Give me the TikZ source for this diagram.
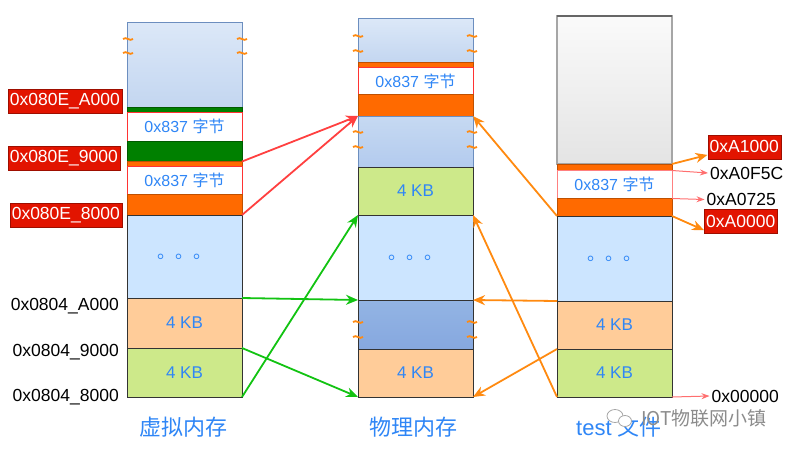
\documentclass[tikz,border=0pt]{standalone}
\usepackage{fontspec}
\setmainfont{Liberation Sans}
\newfontfamily\cjk{Noto Sans CJK SC}
\usetikzlibrary{arrows.meta}

\definecolor{txtblue}{HTML}{2F86F6}
\definecolor{ltblue}{HTML}{CCE5FF}
\definecolor{peach}{HTML}{FFCC99}
\definecolor{ltgreen}{HTML}{CDE98A}
\definecolor{dkgreen}{HTML}{008000}
\definecolor{orng}{HTML}{FF6A00}
\definecolor{lblred}{HTML}{E21400}
\definecolor{arrred}{HTML}{FF4040}
\definecolor{arrgreen}{HTML}{12C312}
\definecolor{arrorange}{HTML}{FF8A10}
\definecolor{pinkline}{HTML}{FF6F6F}
\definecolor{edgeblue}{HTML}{6C8EBF}
\definecolor{topA}{HTML}{DCE8F8}
\definecolor{topB}{HTML}{C3D6F0}
\definecolor{midA}{HTML}{C6D9F2}
\definecolor{midB}{HTML}{B3CBEE}
\definecolor{dkA}{HTML}{93B4E4}
\definecolor{dkB}{HTML}{86A8DF}
\definecolor{greyA}{HTML}{FAFAFA}
\definecolor{greyB}{HTML}{E4E4E4}

\tikzset{
  blk/.style={draw=black!80, line width=0.9pt, minimum width=115pt, inner sep=0pt,
              outer sep=0pt, anchor=north, text=txtblue, font=\fontsize{17}{20}\selectfont},
  whitebox/.style={blk, fill=white, draw=red!80, font=\fontsize{16}{19}\selectfont},
  orangebar/.style={blk, fill=orng, draw=orng!75!black},
  greenbar/.style={blk, fill=dkgreen, draw=dkgreen!70!black},
  dotsbox/.style={blk, fill=ltblue, font=\cjk\fontsize{18}{20}\selectfont},
  kbpeach/.style={blk, fill=peach},
  kbgreen/.style={blk, fill=ltgreen},
  topblue/.style={blk, draw=edgeblue, top color=topA, bottom color=topB},
  midblue/.style={blk, draw=edgeblue, top color=midA, bottom color=midB},
  dkblue/.style={blk, top color=dkA, bottom color=dkB},
  filetop/.style={blk, draw=black!35, line width=1.3pt, top color=greyA, bottom color=greyB},
  redlabel/.style={fill=lblred, draw=lblred!70!black, text=white, inner xsep=2pt,
                   minimum height=24pt, font=\fontsize{17.5}{20}\selectfont},
  addr/.style={inner sep=2pt, font=\fontsize{17.5}{20}\selectfont},
  coltitle/.style={text=txtblue, font=\fontsize{22}{26}\selectfont},
  maparrow/.style={line width=1.8pt, -{Stealth[length=12pt,width=10pt]}},
  ptr/.style={pinkline, line width=1pt, -{Stealth[length=8pt,width=6pt]}},
  tilde/.style={arrorange, line width=1.8pt}
}

\begin{document}
\begin{tikzpicture}[x=1pt, y=-1pt]
\useasboundingbox (0,0) rectangle (794,453);

% virtual memory
\node[topblue, minimum height=85pt] (vA) at (184.5,22) {};
\node[greenbar, minimum height=5pt] (vB) at (184.5,107) {};
\node[whitebox, minimum height=29pt] (vC) at (184.5,112) {0x837 {\cjk 字节}};
\node[greenbar, minimum height=20.5pt] (vD) at (184.5,141) {};
\node[orangebar, minimum height=5pt] (vE) at (184.5,161.5) {};
\node[whitebox, minimum height=28pt] (vF) at (184.5,166.5) {0x837 {\cjk 字节}};
\node[orangebar, minimum height=20.5pt] (vG) at (184.5,194.5) {};
\node[dotsbox, minimum height=83pt] (vH) at (184.5,215) {。。。};
\node[kbpeach, minimum height=50pt] (vI) at (184.5,298) {4 KB};
\node[kbgreen, minimum height=49pt] (vJ) at (184.5,348) {4 KB};
\node[coltitle] (vT) at (183,427) {\cjk 虚拟内存};

% physical memory
\node[topblue, minimum height=44.5pt] (pA) at (415.5,18) {};
\node[orangebar, minimum height=5pt] (pB) at (415.5,62.5) {};
\node[whitebox, minimum height=27pt] (pC) at (415.5,67.5) {0x837 {\cjk 字节}};
\node[orangebar, minimum height=21.5pt] (pD) at (415.5,94.5) {};
\node[midblue, minimum height=51pt] (pE) at (415.5,116) {};
\node[kbgreen, minimum height=48pt] (pF) at (415.5,167) {4 KB};
\node[dotsbox, minimum height=85pt] (pG) at (415.5,215) {。。。};
\node[dkblue, minimum height=49pt] (pH) at (415.5,300) {};
\node[kbpeach, minimum height=48pt] (pI) at (415.5,349) {4 KB};
\node[coltitle] (pT) at (413,427) {\cjk 物理内存};

% test file
\node[filetop, minimum height=148pt] (fA) at (614.5,16) {};
\draw[black!60, line width=1.3pt] (fA.north west) -- (fA.north east);
\node[orangebar, minimum height=6.5pt] (fB) at (614.5,164) {};
\node[whitebox, draw=red!50, minimum height=28pt] (fC) at (614.5,170.5) {0x837 {\cjk 字节}};
\node[orangebar, minimum height=17.5pt] (fD) at (614.5,198.5) {};
\node[dotsbox, minimum height=85pt] (fE) at (614.5,216) {。。。};
\node[kbpeach, minimum height=48pt] (fF) at (614.5,301) {4 KB};
\node[kbgreen, minimum height=48pt] (fG) at (614.5,349) {4 KB};
\node[coltitle] (fT) at (619,427) {test {\cjk 文件}};

% breaks
\foreach \x/\y in {128/39, 128/53, 242/39, 242/53, 358/36, 358/51, 472/36, 472/51,
                   358/132, 358/147, 472/132, 472/147, 358/322, 358/337, 472/322, 472/337}
  \draw[tilde] (\x-5,\y) .. controls (\x-2,\y-3) and (\x+2,\y+3) .. (\x+5,\y);

% addresses, virtual side
\node[redlabel, anchor=east] (vaA) at (122,101) {0x080E\_A000};
\node[redlabel, anchor=east] (va9) at (120,158) {0x080E\_9000};
\node[redlabel, anchor=east] (va8) at (122,215) {0x080E\_8000};
\node[addr, anchor=east] (vbA) at (121,306) {0x0804\_A000};
\node[addr, anchor=east] (vb9) at (121,352) {0x0804\_9000};
\node[addr, anchor=east] (vb8) at (121,397) {0x0804\_8000};

% addresses, file side
\node[redlabel, anchor=west] (fa1) at (707.5,146.7) {0xA1000};
\node[addr, anchor=west] (faF) at (708,173) {0xA0F5C};
\node[addr, anchor=west] (fa7) at (704.5,199.5) {0xA0725};
\node[redlabel, anchor=west] (fa0) at (704,221) {0xA0000};
\node[addr, anchor=west] (fz) at (709.5,396) {0x00000};

% mappings
\draw[maparrow, arrred] (vE.north east) -- (pD.south west);
\draw[maparrow, arrred] (vG.south east) -- (pD.south west);
\draw[maparrow, arrgreen] (vJ.south east) -- (pF.south west);
\draw[maparrow, arrgreen] (vI.north east) -- (pH.north west);
\draw[maparrow, arrgreen] (vI.south east) -- (pI.south west);
\draw[maparrow, arrorange] (fD.south west) -- (pD.south east);
\draw[maparrow, arrorange] (fG.south west) -- (pF.south east);
\draw[maparrow, arrorange] (fF.north west) -- (pH.north east);
\draw[maparrow, arrorange] (fF.south west) -- (pI.south east);

% file offsets
\draw[maparrow, arrorange] (fB.north east) -- ([yshift=4pt]fa1.south west);
\draw[ptr] (fC.north east) -- (faF.west);
\draw[ptr] (fC.south east) -- (fa7.west);
\draw[maparrow, arrorange] (fD.south east) -- ([yshift=3pt]fa0.south west);
\draw[ptr] (fG.south east) -- (fz.west);

% watermark
\draw[black!35, line width=0.8pt] (615,416) ellipse (8 and 6.5);
\draw[black!35, line width=0.8pt, fill=white] (625,421) ellipse (6.5 and 5.5);
\node[anchor=west, text=black!45, font=\cjk\fontsize{19}{22}\selectfont, inner sep=0pt] (wm) at (641,418) {IOT物联网小镇};
\end{tikzpicture}
\end{document}
